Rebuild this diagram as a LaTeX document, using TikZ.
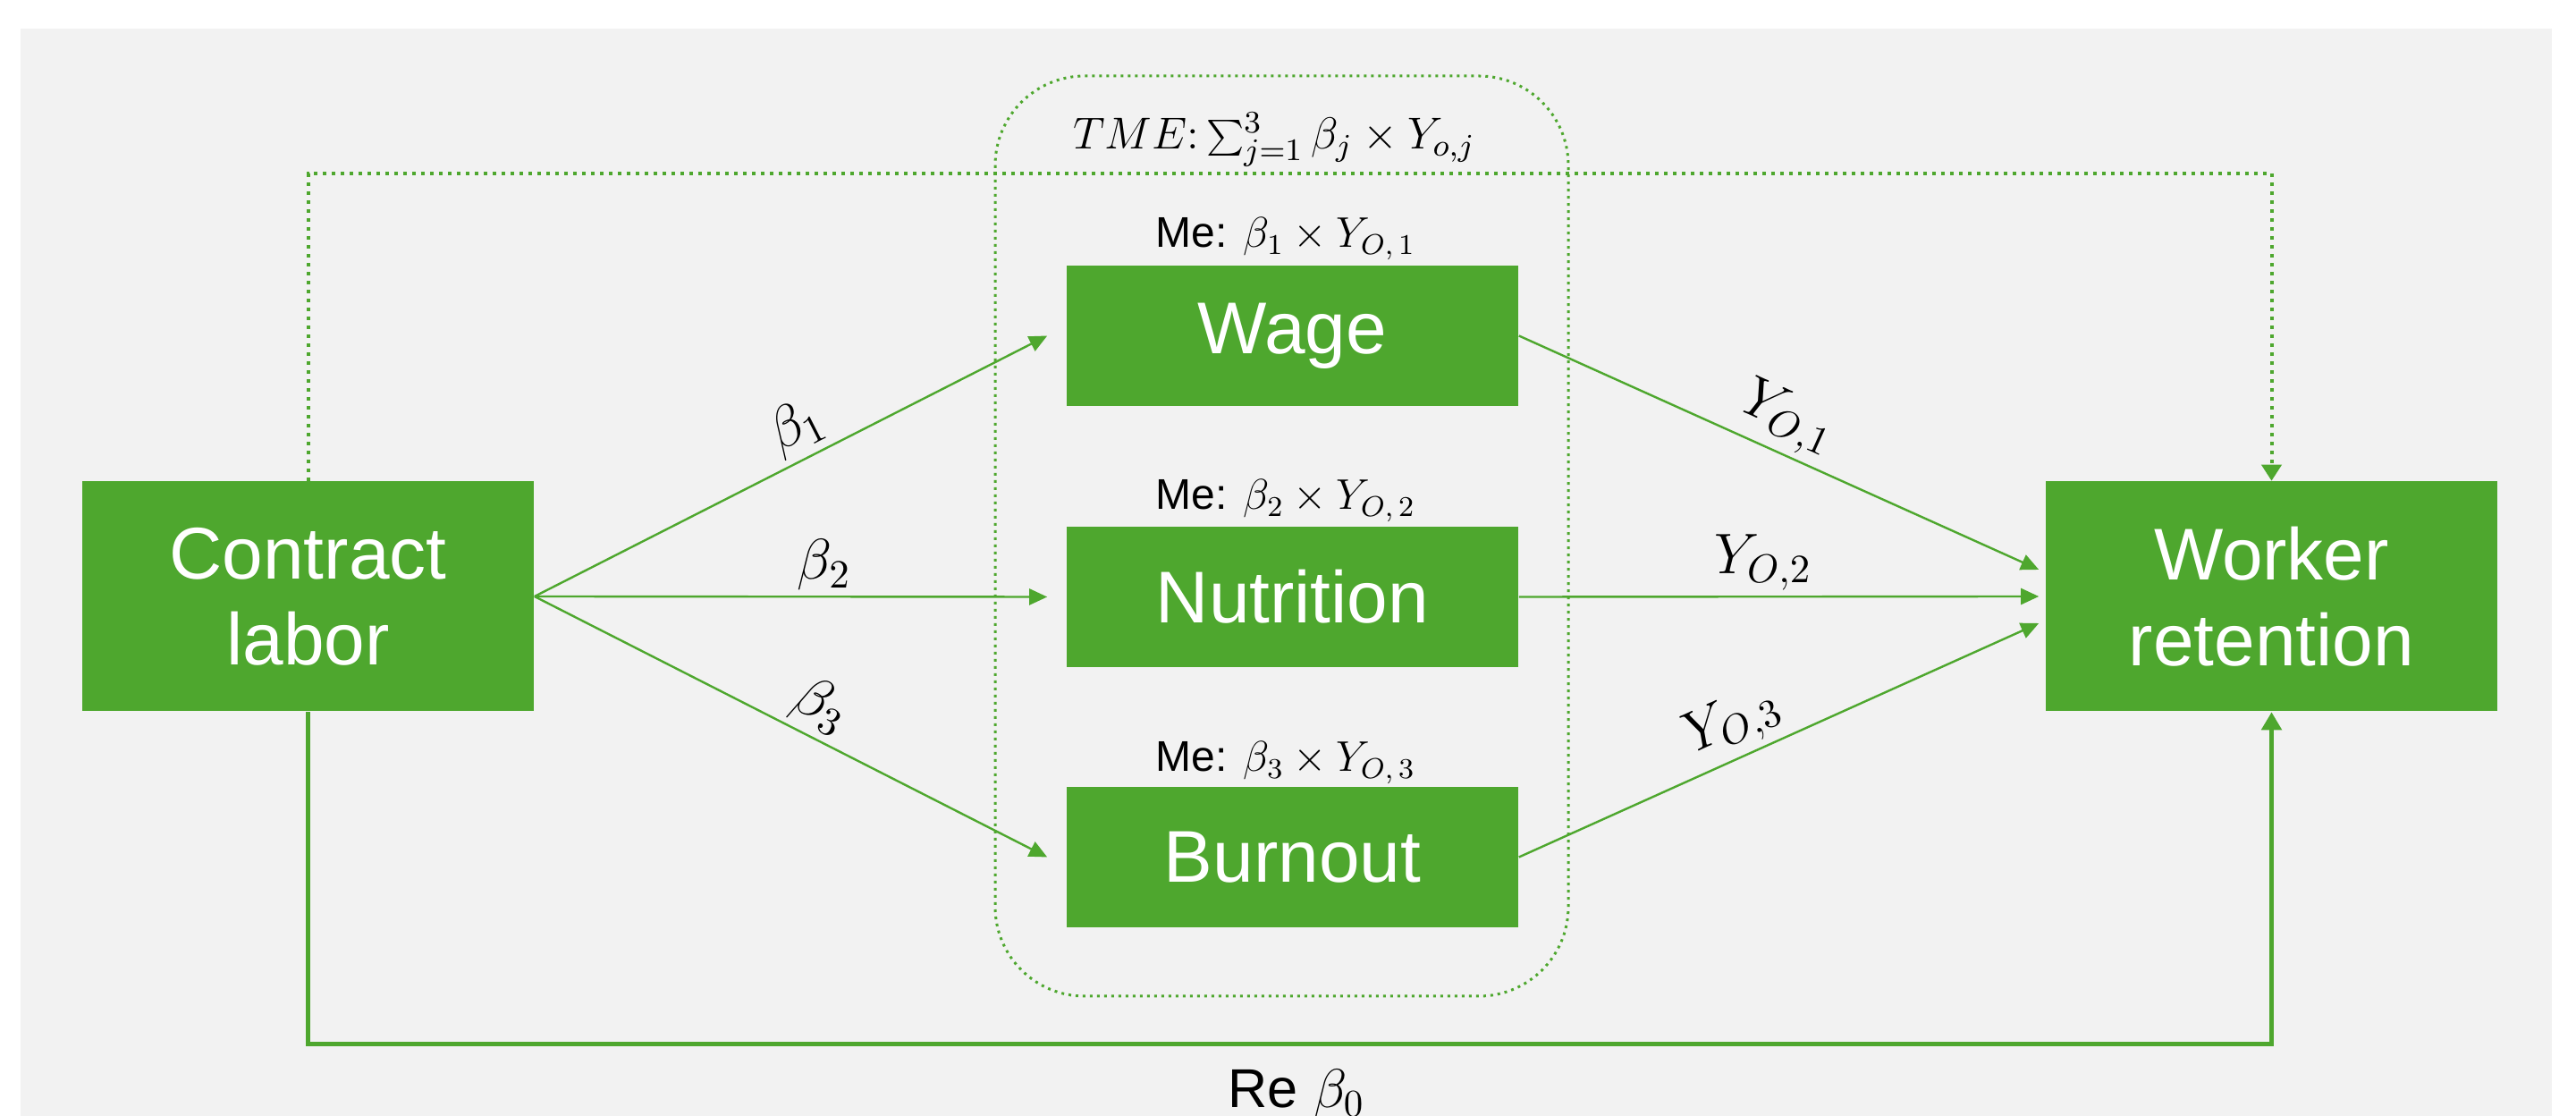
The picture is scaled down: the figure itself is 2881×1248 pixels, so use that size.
\documentclass[tikz,border=0pt]{standalone}
\usepackage{fix-cm}
\usepackage{fontspec}
\setmainfont{Liberation Sans}
\usetikzlibrary{arrows.meta}
\definecolor{grn}{HTML}{4EA72E}
\definecolor{panel}{HTML}{F2F2F2}
\begin{document}
\begin{tikzpicture}[x=0.25pt,y=-0.25pt,
  box/.style={fill=grn, draw=none, text=white, align=center,
    font=\fontsize{20.5}{24}\selectfont, minimum width=126.25pt, inner sep=0pt},
  bigbox/.style={box, minimum height=64.25pt},
  medbox/.style={box, minimum height=39.25pt},
  link/.style={draw=grn, line width=0.6pt, -{Triangle[length=5pt,width=4.5pt]}},
  toplink/.style={draw=grn, line width=1pt, dash pattern=on 1pt off 1.5pt,
    -{Triangle[length=4.5pt,width=5.5pt]}},
  botlink/.style={draw=grn, line width=1.25pt,
    -{Triangle[length=5pt,width=5.5pt]}},
  groupbox/.style={draw=grn, line width=0.75pt, dash pattern=on 0.75pt off 1.25pt,
    rounded corners=25pt},
  lbl/.style={font=\fontsize{16}{19}\selectfont, inner sep=1.5pt},
  melbl/.style={font=\fontsize{12}{14}\selectfont, anchor=base, inner sep=0pt},
]
\useasboundingbox (0,0) rectangle (2881,1248);
\fill[white] (0,0) rectangle (2881,1248);
\fill[panel] (23,32) rectangle (2854,1248);

% group box
\draw[groupbox] (1113,85) rectangle (1754,1114);

% nodes
\node[bigbox] (cl) at (344.5,667) {Contract\\labor};
\node[bigbox] (wr) at (2540.5,667) {Worker\\retention};
\node[medbox] (wage) at (1445.5,375.5) {Wage};
\node[medbox] (nut)  at (1445.5,667.5) {Nutrition};
\node[medbox] (burn) at (1445.5,958.5) {Burnout};

% labels
\node[font=\fontsize{12.5}{15}\selectfont, anchor=base] (tme) at (1425,167)
  {$TME\colon \sum_{j=1}^{3}\beta_j \times Y_{o,j}$};
\node[melbl] (me1) at (1438,277) {Me: $\beta_1 \times Y_{O,\,1}$};
\node[melbl] (me2) at (1438,570) {Me: $\beta_2 \times Y_{O,\,2}$};
\node[melbl] (me3) at (1438,863) {Me: $\beta_3 \times Y_{O,\,3}$};

% helper coordinates
\coordinate (topy) at (0,194);
\coordinate (boty) at (0,1168);

% dotted total effect path
\draw[toplink] (cl.north) -- (cl.north |- topy) -- (wr.north |- topy) -- (wr.north);

% residual effect path
\draw[botlink] (cl.south) -- (cl.south |- boty) -- (wr.south |- boty) -- (wr.south);
\node[font=\fontsize{15.3}{18}\selectfont, anchor=base] (re) at (1450,1239) {Re $\beta_0$};

% a paths
\draw[link] (cl.east) -- ([xshift=-5.25pt]wage.west)
  node[lbl, pos=0.54, above, sloped] (b1) {$\beta_1$};
\draw[link] (cl.east) -- ([xshift=-5.25pt]nut.west)
  node[lbl, pos=0.565, above, sloped] (b2) {$\beta_2$};
\draw[link] (cl.east) -- ([xshift=-5.25pt]burn.west)
  node[lbl, pos=0.53, above, sloped] (b3) {$\beta_3$};

% b paths
\draw[link] (wage.east) -- ([xshift=-1.75pt,yshift=7.5pt]wr.west)
  node[lbl, pos=0.49, above, sloped] (y1) {$Y_{O,1}$};
\draw[link] (nut.east) -- ([xshift=-1.75pt]wr.west)
  node[lbl, pos=0.47, above, sloped] (y2) {$Y_{O,2}$};
\draw[link] (burn.east) -- ([xshift=-1.75pt,yshift=-7.5pt]wr.west)
  node[lbl, pos=0.44, above, sloped] (y3) {$Y_{O,3}$};
\end{tikzpicture}
\end{document}
